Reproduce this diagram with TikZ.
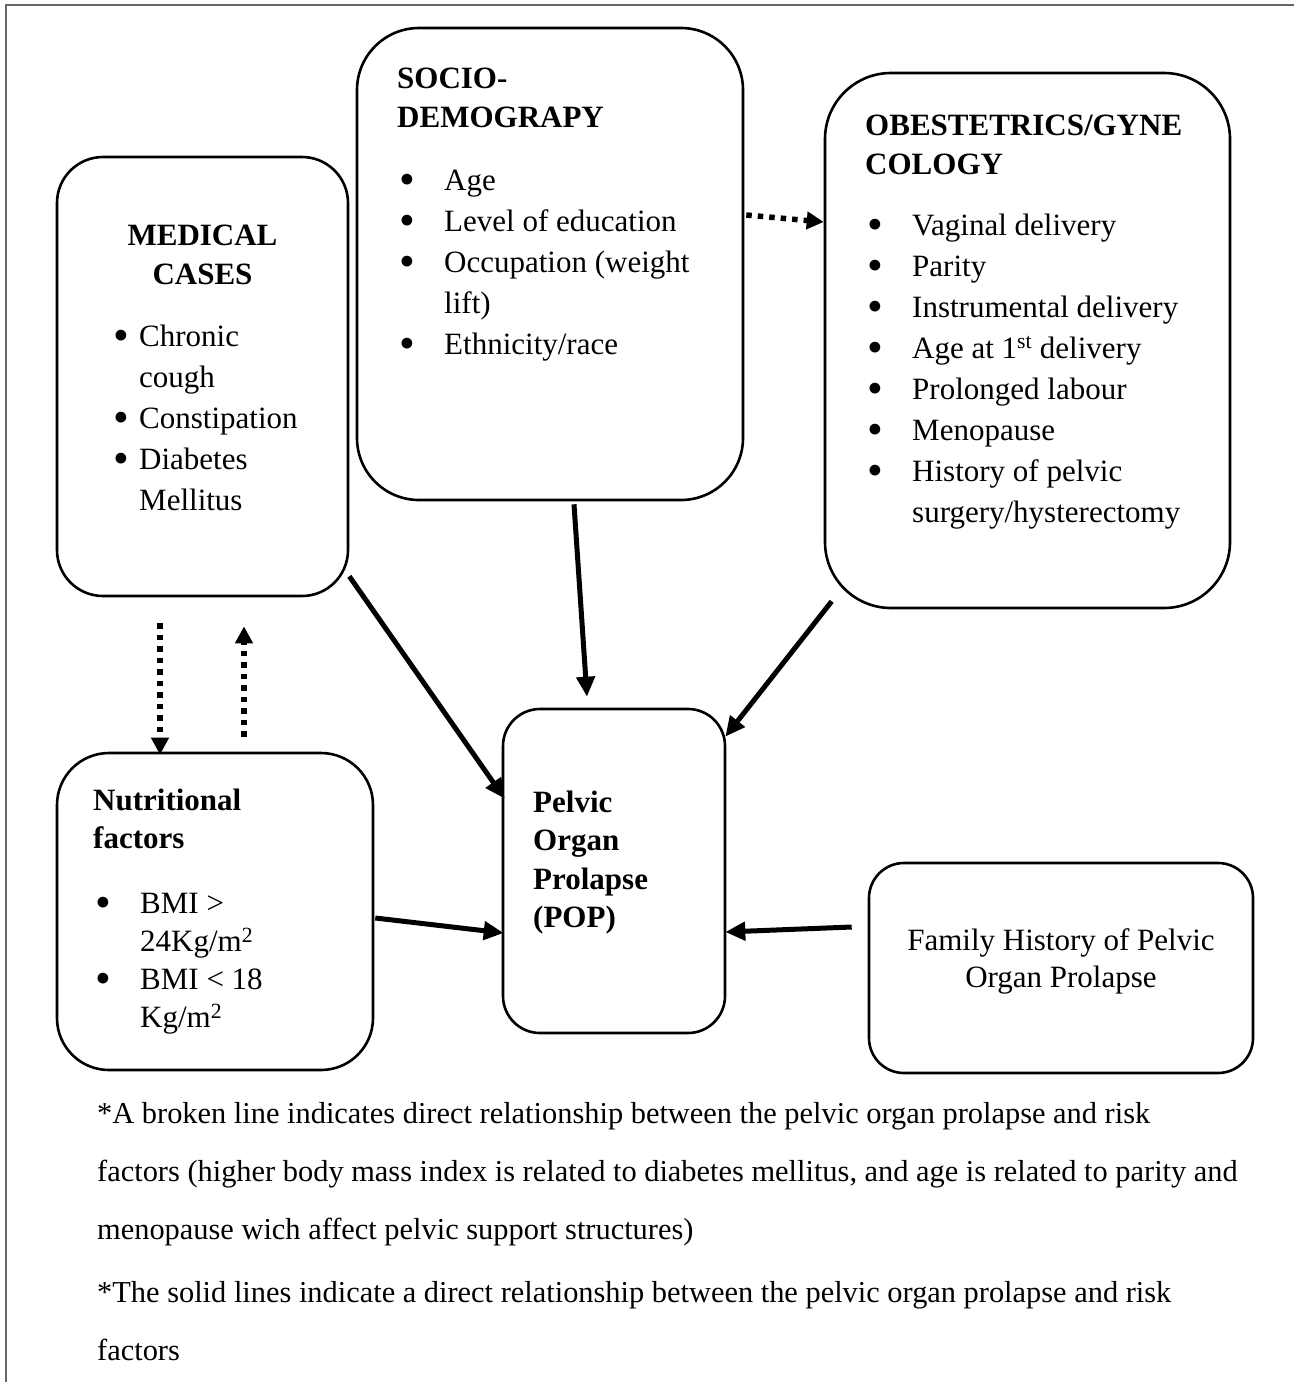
\documentclass[tikz,border=0pt]{standalone}
\usepackage{fontspec}
\setmainfont{Liberation Serif}
\usetikzlibrary{arrows.meta,calc}
\newcommand{\bulmark}{\hspace{2pt}\raisebox{-4pt}{\scalebox{1.45}{\textbullet}}}
\newcommand{\bul}{\makebox[47pt][l]{\bulmark}}
\newcommand{\hng}{\hspace*{47pt}}
\newcommand{\bulm}{\makebox[28pt][l]{\bulmark}}
\newcommand{\hngm}{\hspace*{28pt}}
\begin{document}
\begin{tikzpicture}[x=1pt,y=-1pt,
  box/.style={draw=black,line width=2.6pt,inner sep=0pt,fill=white},
  hdr/.style={inner sep=0pt,font=\bfseries\fontsize{31}{39}\selectfont},
  lst/.style={inner sep=0pt,anchor=base west,font=\fontsize{31}{41}\selectfont},
  arr/.style={line width=5pt,-{Triangle[length=20pt,width=18pt]}},
  dots/.style={line width=5.5pt,dash pattern=on 5.5pt off 6pt,-{Triangle[length=17pt,width=17pt]}}]
\useasboundingbox (0,0) rectangle (1294,1382);
\draw[black!60,line width=2pt] (6,1382) -- (6,5) -- (1294,5);

% boxes
\node[box,minimum width=291pt,minimum height=439pt,rounded corners=46pt] (med) at (202.5,376.5) {};
\node[box,minimum width=386pt,minimum height=472pt,rounded corners=62pt] (soc) at (550,264) {};
\node[box,minimum width=405pt,minimum height=535pt,rounded corners=66pt] (obs) at (1027.5,340.5) {};
\node[box,minimum width=316pt,minimum height=317pt,rounded corners=52pt] (nut) at (215,911.5) {};
\node[box,minimum width=222pt,minimum height=324pt,rounded corners=37pt] (pop) at (614,871) {};
\node[box,minimum width=384pt,minimum height=210pt,rounded corners=35pt] (fam) at (1061,968) {};

% texts
\node[hdr,anchor=base] (medh) at (202.5,245) {\begin{tabular}[t]{@{}c@{}}MEDICAL\\CASES\end{tabular}};
\node[lst] (medl) at (111,346) {\begin{tabular}[t]{@{}l@{}}\bulm Chronic\\ \hngm cough\\ \bulm Constipation\\ \bulm Diabetes\\ \hngm Mellitus\end{tabular}};

\node[hdr,anchor=base west] (soch) at (397,88) {\begin{tabular}[t]{@{}l@{}}SOCIO-\\DEMOGRAPY\end{tabular}};
\node[lst] (socl) at (397,190) {\begin{tabular}[t]{@{}l@{}}\bul Age\\ \bul Level of education\\ \bul Occupation (weight\\ \hng lift)\\ \bul Ethnicity/race\end{tabular}};

\node[hdr,anchor=base west] (obsh) at (865,135) {\begin{tabular}[t]{@{}l@{}}OBESTETRICS/GYNE\\COLOGY\end{tabular}};
\node[lst] (obsl) at (865,235) {\begin{tabular}[t]{@{}l@{}}\bul Vaginal delivery\\ \bul Parity\\ \bul Instrumental delivery\\ \bul Age at 1\textsuperscript{st} delivery\\ \bul Prolonged labour\\ \bul Menopause\\ \bul History of pelvic\\ \hng surgery/hysterectomy\end{tabular}};

\node[hdr,anchor=base west,font=\bfseries\fontsize{31}{38}\selectfont] (nuth) at (93,810) {\begin{tabular}[t]{@{}l@{}}Nutritional\\factors\end{tabular}};
\node[lst,font=\fontsize{31}{38.3}\selectfont] (nutl) at (93,913) {\begin{tabular}[t]{@{}l@{}}\bul BMI >\\ \hng 24Kg/m\textsuperscript{2}\\ \bul BMI < 18\\ \hng Kg/m\textsuperscript{2}\end{tabular}};

\node[hdr,anchor=base west,font=\bfseries\fontsize{31}{38.5}\selectfont] (poph) at (533,812) {\begin{tabular}[t]{@{}l@{}}Pelvic\\Organ\\Prolapse\\(POP)\end{tabular}};

\node[lst,anchor=base,font=\fontsize{31}{37}\selectfont] (famt) at (1061,950) {\begin{tabular}[t]{@{}c@{}}Family History of Pelvic\\Organ Prolapse\end{tabular}};

\node[lst,font=\fontsize{30.4}{58}\selectfont] (cap1) at (97,1123) {\begin{tabular}[t]{@{}l@{}}*A broken line indicates direct relationship between the pelvic organ prolapse and risk\\factors (higher body mass index is related to diabetes mellitus, and age is related to parity and\\menopause wich affect pelvic support structures)\end{tabular}};
\node[lst,font=\fontsize{30.4}{58}\selectfont] (cap2) at (97,1302) {\begin{tabular}[t]{@{}l@{}}*The solid lines indicate a direct relationship between the pelvic organ prolapse and risk\\factors\end{tabular}};

% connectors
\draw[arr] ($(med.south east)+(0,-21)$) -- ($(pop.north west)+(3,91)$);
\draw[arr] ($(soc.south)+(24,3)$) -- ($(pop.north)+(-27,-11)$);
\draw[arr] ($(obs.south west)+(8,-8)$) -- ($(pop.north east)+(-1,29)$);
\draw[arr] ($(nut.east)+(1,6.5)$) -- ($(pop.west)+(2,62)$);
\draw[arr] ($(fam.west)+(-16,-41)$) -- ($(pop.east)+(-1,61)$);
\draw[dots] ($(soc.east)+(2,-49)$) -- ($(obs.west)+(0,-118.5)$);
\draw[dots] ($(med.south)+(-42.5,26)$) -- ($(nut.north)+(-55,3)$);
\draw[dots] ($(nut.north)+(29,-15)$) -- ($(med.south)+(41.5,29)$);
\end{tikzpicture}
\end{document}
